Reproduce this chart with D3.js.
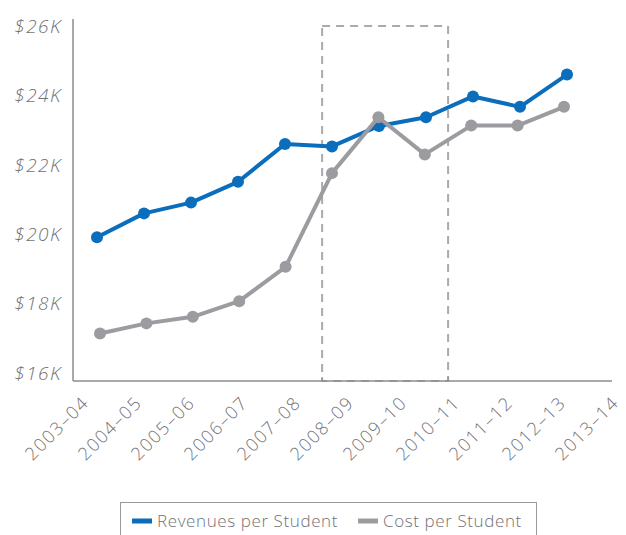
<!DOCTYPE html>
<html>
<head>
<meta charset="utf-8">
<script src="https://cdn.jsdelivr.net/npm/d3@7"></script>
<style>
  html, body { margin: 0; padding: 0; background: #fff; }
  svg { display: block; }
  text { font-family: "Open Sans", "Noto Sans", Lato, sans-serif; }
</style>
</head>
<body>
<svg id="chart" width="626" height="535"></svg>
<script>
// School years shown along the x axis
const years = ["2003–04", "2004–05", "2005–06", "2006–07", "2007–08", "2008–09",
               "2009–10", "2010–11", "2011–12", "2012–13", "2013–14"];

// Values in thousands of dollars
const revenuePerStudent = [19.91, 20.60, 20.91, 21.51, 22.60, 22.53, 23.12, 23.37, 23.97, 23.67, 24.60];
const costPerStudent    = [17.14, 17.43, 17.62, 18.07, 19.06, 21.76, 23.37, 22.30, 23.13, 23.13, 23.67];

// Y axis ticks (thousands)
const yTicks = [16, 18, 20, 22, 24, 26];
const yTickLabels = ["$16K", "$18K", "$20K", "$22K", "$24K", "$26K"];

// Highlighted period, in year-index units along the x axis
const highlightPeriod = [4.79, 7.47];

const seriesNames = ["Revenues per Student", "Cost per Student"];
const colors = { revenue: "#0a6ebd", cost: "#9c9ba0" };

const svg = d3.select("#chart");
const axisColor = "#8d8d92";
const textColor = "#717276";

const y = d3.scaleLinear().domain([16, 26]).range([373, 26]);
const axisY = 381, axisX = 73, axisRight = 612, axisTop = 19;

// Point positions for each series, and label positions along the axis
const xRevenue = d3.scaleLinear().domain([0, years.length - 1]).range([97, 567]);
const xCost = d3.scaleLinear().domain([0, years.length - 1]).range([100, 564]);
const xIndex = d3.scaleLinear().domain([0, years.length - 1]).range([97, 567]);
const xLabel = d3.scalePoint().domain(years).range([90, 620]);

// Highlight box (dashed)
svg.append("rect")
  .attr("x", xIndex(highlightPeriod[0]))
  .attr("y", y(26))
  .attr("width", xIndex(highlightPeriod[1]) - xIndex(highlightPeriod[0]))
  .attr("height", axisY - y(26))
  .attr("fill", "none")
  .attr("stroke", "#aaaaad")
  .attr("stroke-width", 2)
  .attr("stroke-dasharray", "8,6");

// Axes lines
svg.append("line")
  .attr("x1", axisX).attr("x2", axisX).attr("y1", axisTop).attr("y2", axisY)
  .attr("stroke", axisColor).attr("stroke-width", 1.5);
svg.append("line")
  .attr("x1", axisX).attr("x2", axisRight).attr("y1", axisY).attr("y2", axisY)
  .attr("stroke", axisColor).attr("stroke-width", 1.5);

// Small ticks marking the highlighted period
highlightPeriod.forEach(p => {
  svg.append("line")
    .attr("x1", xIndex(p)).attr("x2", xIndex(p))
    .attr("y1", axisY - 4).attr("y2", axisY)
    .attr("stroke", axisColor).attr("stroke-width", 1.2);
});

// Y tick labels
svg.append("g").selectAll("text")
  .data(yTicks)
  .join("text")
  .attr("x", 62)
  .attr("y", d => y(d))
  .attr("dy", "0.36em")
  .attr("text-anchor", "end")
  .attr("font-size", 19)
  .attr("font-style", "italic")
  .attr("font-weight", 300)
  .attr("letter-spacing", 1.5)
  .attr("fill", textColor)
  .text((d, i) => yTickLabels[i]);

// X tick labels, rotated
svg.append("g").selectAll("text")
  .data(years)
  .join("text")
  .attr("transform", d => `translate(${xLabel(d)},${404}) rotate(-45)`)
  .attr("text-anchor", "end")
  .attr("font-size", 18)
  .attr("font-weight", 300)
  .attr("letter-spacing", 1.5)
  .attr("fill", textColor)
  .text(d => d);

// Lines and points
function drawSeries(values, xs, color, r) {
  const line = d3.line().x((d, i) => xs(i)).y(d => y(d));
  svg.append("path")
    .datum(values)
    .attr("d", line)
    .attr("fill", "none")
    .attr("stroke", color)
    .attr("stroke-width", 4)
    .attr("stroke-linejoin", "round");
  svg.append("g").selectAll("circle")
    .data(values)
    .join("circle")
    .attr("cx", (d, i) => xs(i))
    .attr("cy", d => y(d))
    .attr("r", r)
    .attr("fill", color);
}
drawSeries(revenuePerStudent, xRevenue, colors.revenue, 6);
drawSeries(costPerStudent, xCost, colors.cost, 6);

// Legend
const legend = svg.append("g");
legend.append("rect")
  .attr("x", 120.5).attr("y", 502.5).attr("width", 416).attr("height", 40)
  .attr("fill", "none").attr("stroke", "#9a9a9e").attr("stroke-width", 1);
const legendItems = [
  { name: seriesNames[0], color: colors.revenue, x: 132 },
  { name: seriesNames[1], color: colors.cost, x: 358 }
];
legendItems.forEach(it => {
  legend.append("line")
    .attr("x1", it.x).attr("x2", it.x + 20)
    .attr("y1", 521).attr("y2", 521)
    .attr("stroke", it.color).attr("stroke-width", 5);
  legend.append("text")
    .attr("x", it.x + 25).attr("y", 527)
    .attr("font-size", 17)
    .attr("font-weight", 300)
    .attr("letter-spacing", 0.6)
    .attr("fill", textColor)
    .text(it.name);
});
</script>
</body>
</html>
